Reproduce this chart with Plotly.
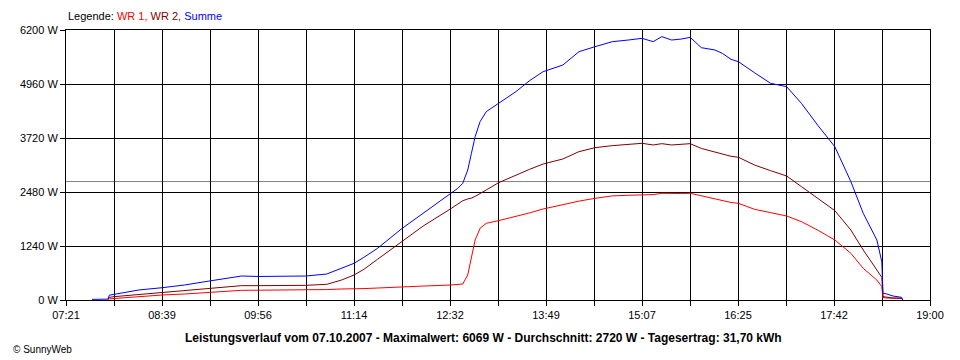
import plotly.graph_objects as go

# ---- data (time of day, power in W) ----
times = ["07:42", "07:55", "07:56", "08:00", "08:09", "08:20", "08:39", "08:57",
         "09:17", "09:30", "09:43", "09:57", "10:15", "10:35", "10:52", "11:04",
         "11:14", "11:22", "11:33", "11:53", "12:10", "12:32", "12:38", "12:42",
         "12:46", "12:49", "12:52", "12:56", "13:01", "13:11", "13:25", "13:36",
         "13:47", "14:03", "14:16", "14:29", "14:43", "14:56", "15:07", "15:16",
         "15:23", "15:31", "15:39", "15:46", "15:55", "16:06", "16:12", "16:19",
         "16:25", "16:38", "16:51", "17:04", "17:16", "17:29", "17:43", "17:56",
         "18:06", "18:17", "18:21", "18:22", "18:25", "18:30", "18:37", "18:38"]

wr1 = [None, 10, 25, 35, 55, 77, 115, 138,
       169, 195, 222, 225, 228, 230, 240, 253,
       250, 262, 275, 306, 320, 344, 360, 367,
       574, 995, 1378, 1646, 1761, 1822, 1914, 2000,
       2090, 2197, 2270, 2335, 2390, 2405, 2411, 2420,
       2450, 2440, 2445, 2450, 2390, 2330, 2281, 2240,
       2220, 2083, 2006, 1929, 1799, 1607, 1378, 1072,
       727, 459, 306, 54, 45, 40, 38, 0]

wr2 = [None, 20, 60, 77, 100, 123, 169, 222,
       268, 300, 329, 329, 335, 337, 360, 459,
       574, 704, 934, 1340, 1700, 2090, 2200, 2280,
       2320, 2340, 2380, 2440, 2526, 2694, 2870, 3000,
       3123, 3238, 3406, 3498, 3544, 3570, 3598, 3560,
       3590, 3560, 3580, 3590, 3480, 3400, 3352, 3300,
       3277, 3100, 2970, 2848, 2603, 2335, 2052, 1607,
       1148, 689, 520, 77, 60, 46, 40, 0]

summe = [15, 20, 110, 130, 184, 230, 283, 345,
         436, 497, 551, 540, 551, 551, 597, 727,
         842, 980, 1186, 1646, 1990, 2450, 2565, 2680,
         2985, 3368, 3751, 4095, 4325, 4516, 4784, 5036,
         5243, 5396, 5702, 5817, 5932, 5970, 6009, 5932,
         6047, 5970, 5993, 6032, 5794, 5741, 5663, 5527,
         5472, 5220, 4976, 4899, 4516, 4019, 3521, 2717,
         1990, 1378, 880, 153, 138, 92, 61, 0]

average_w = 2720
y_ticks = [0, 1240, 2480, 3720, 4960, 6200]
x_tick_labels = ["07:21", "", "08:39", "", "09:56", "", "11:14", "", "12:32", "",
                 "13:49", "", "15:07", "", "16:25", "", "17:42", "", "19:00"]

title_text = ("Leistungsverlauf vom 07.10.2007 - Maximalwert: 6069 W - "
              "Durchschnitt: 2720 W - Tagesertrag: 31,70 kWh")


def to_min(s):
    h, m = s.split(":")
    return int(h) * 60 + int(m)


x = [to_min(t) for t in times]
x_start = to_min(x_tick_labels[0])
x_end = to_min(x_tick_labels[-1])
n_int = len(x_tick_labels) - 1
x_tickvals = [x_start + k * (x_end - x_start) / n_int for k in range(n_int + 1)]

FONT = "Liberation Sans"

fig = go.Figure()
fig.add_trace(go.Scatter(x=x, y=wr1, mode="lines", name="WR 1",
                         line=dict(color="#FF0000", width=1)))
fig.add_trace(go.Scatter(x=x, y=wr2, mode="lines", name="WR 2",
                         line=dict(color="#800000", width=1)))
fig.add_trace(go.Scatter(x=x, y=summe, mode="lines", name="Summe",
                         line=dict(color="#0000FF", width=1)))

fig.add_shape(type="line", xref="x", yref="y", x0=x_start, x1=x_end,
              y0=average_w, y1=average_w, line=dict(color="#808080", width=1),
              layer="below")

# page body has an 8px margin, so the figure is shrunk by 8px on each side
fig.update_layout(
    width=952, height=352,
    margin=dict(l=52, r=30, t=22, b=60),
    paper_bgcolor="white", plot_bgcolor="white",
    showlegend=False,
    font=dict(family=FONT, size=11, color="black"),
    xaxis=dict(range=[x_start, x_end], tickmode="array", tickvals=x_tickvals,
               ticktext=x_tick_labels, showgrid=True, gridcolor="black",
               gridwidth=1, ticks="outside", ticklen=5, tickcolor="black",
               showline=True, linecolor="black", linewidth=1, mirror=True,
               zeroline=False, tickfont=dict(family=FONT, size=11)),
    yaxis=dict(range=[0, 6200], tickmode="array", tickvals=y_ticks,
               ticktext=[f"{v} W" for v in y_ticks], showgrid=True,
               gridcolor="black", gridwidth=1, ticks="outside", ticklen=5,
               tickcolor="black", showline=True, linecolor="black",
               linewidth=1, mirror=True, zeroline=False,
               tickfont=dict(family=FONT, size=11)),
)

fig.add_annotation(
    xref="paper", yref="paper", x=0, y=1, yshift=6, xanchor="left",
    yanchor="bottom", showarrow=False,
    text=("Legende: <span style='color:#FF0000'>WR 1, </span>"
          "<span style='color:#800000'>WR 2, </span>"
          "<span style='color:#0000FF'>Summe</span>"),
    font=dict(family=FONT, size=11, color="black"))

fig.add_annotation(
    xref="paper", yref="paper", x=(480 - 60) / 870, y=0, yshift=-29,
    xanchor="center", yanchor="top", showarrow=False,
    text="<b>" + title_text + "</b>",
    font=dict(family=FONT, size=12, color="black"))

fig.add_annotation(
    xref="paper", yref="paper", x=(5 - 60) / 870, y=0, yshift=-42,
    xanchor="left", yanchor="top", showarrow=False, text="© SunnyWeb",
    font=dict(family=FONT, size=10, color="black"))

fig.write_html("out.html")
